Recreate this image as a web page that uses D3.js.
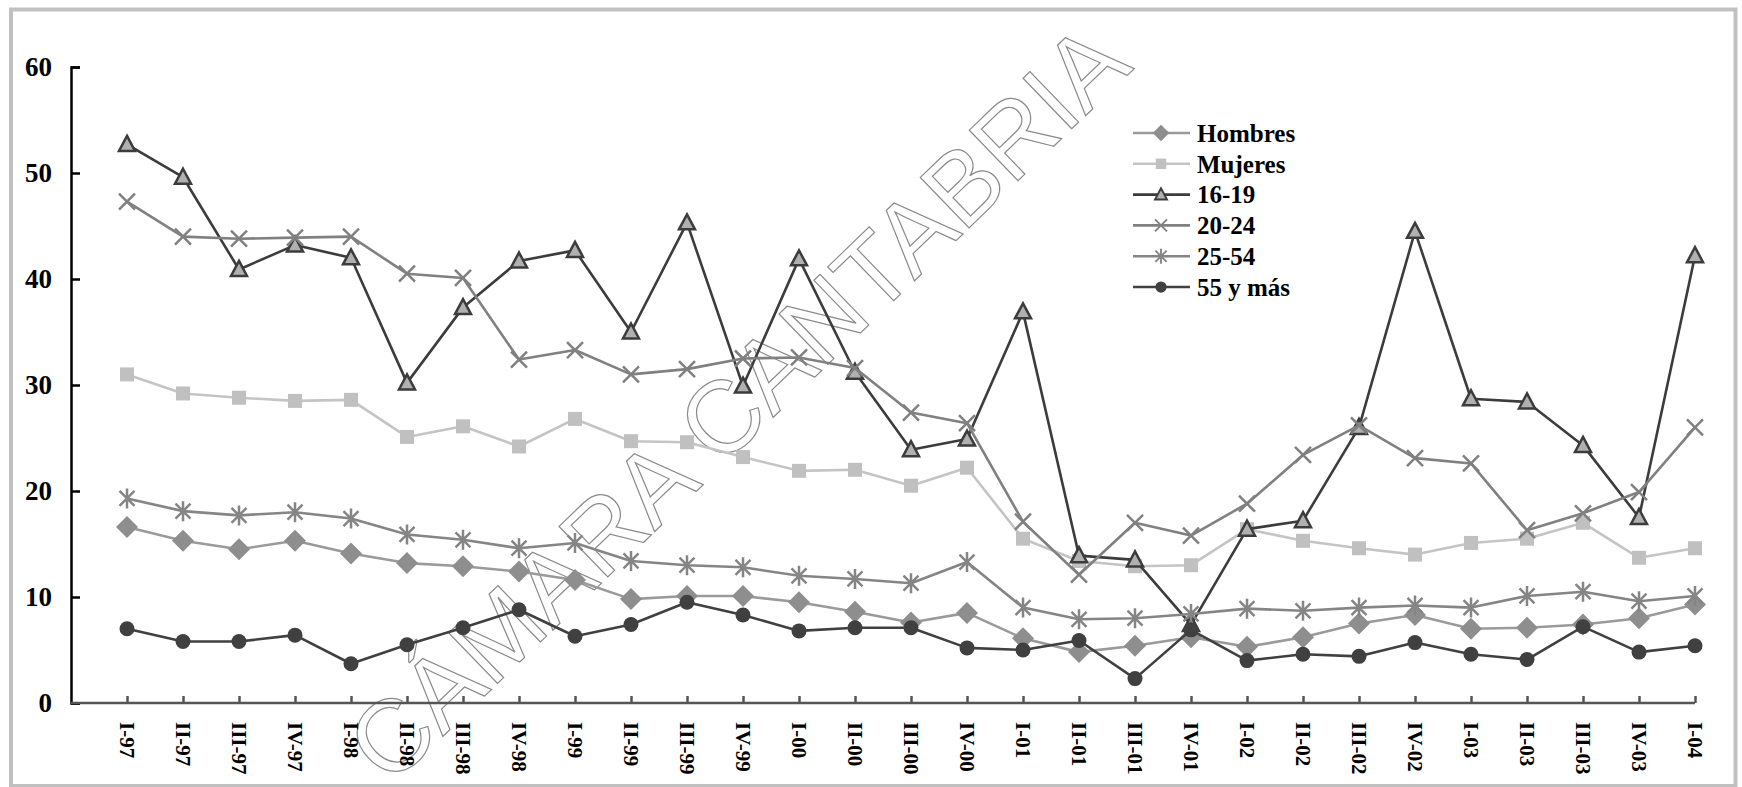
<!DOCTYPE html>
<html><head><meta charset="utf-8">
<script src="https://cdn.jsdelivr.net/npm/d3@7"></script>
<style>
html,body{margin:0;padding:0;background:#fff;}
svg{display:block;}
</style></head>
<body>
<svg id="chart" width="1742" height="787"></svg>
<script>
const categories = ["I-97","II-97","III-97","IV-97","I-98","II-98","III-98","IV-98","I-99","II-99","III-99","IV-99","I-00","II-00","III-00","IV-00","I-01","II-01","III-01","IV-01","I-02","II-02","III-02","IV-02","I-03","II-03","III-03","IV-03","I-04"];
const hombres = [16.6,15.3,14.5,15.3,14.1,13.2,12.9,12.4,11.6,9.8,10.1,10.1,9.5,8.6,7.6,8.5,6.1,4.8,5.4,6.2,5.3,6.2,7.5,8.3,7.0,7.1,7.4,8.0,9.3];
const mujeres = [31.0,29.2,28.8,28.5,28.6,25.1,26.1,24.2,26.8,24.7,24.6,23.2,21.9,22.0,20.5,22.2,15.5,13.4,12.9,13.0,16.4,15.3,14.6,14.0,15.1,15.5,17.0,13.7,14.6];
const g1619 = [52.7,49.6,40.9,43.2,42.0,30.2,37.3,41.7,42.7,35.0,45.3,29.9,41.9,31.2,23.9,24.9,36.9,13.9,13.5,7.4,16.4,17.2,26.0,44.5,28.7,28.4,24.3,17.5,42.2];
const g2024 = [47.3,44.0,43.8,43.9,44.0,40.5,40.1,32.4,33.3,31.0,31.5,32.5,32.6,31.6,27.4,26.4,17.1,12.1,17.0,15.8,18.8,23.4,26.2,23.1,22.6,16.3,17.9,19.9,26.0];
const g2554 = [19.3,18.1,17.7,18.0,17.4,15.9,15.4,14.6,15.1,13.4,13.0,12.8,12.0,11.7,11.3,13.3,9.0,7.9,8.0,8.4,8.9,8.7,9.0,9.2,9.0,10.1,10.5,9.6,10.1];
const g55 = [7.0,5.8,5.8,6.4,3.7,5.5,7.1,8.8,6.3,7.4,9.5,8.3,6.8,7.1,7.1,5.2,5.0,5.9,2.3,6.9,4.0,4.6,4.4,5.7,4.6,4.1,7.2,4.8,5.4];
const yTicks = [0,10,20,30,40,50,60];
const seriesNames = ["Hombres","Mujeres","16-19","20-24","25-54","55 y más"];
const watermark = "CÁMARA CANTABRIA";

const series = [
  {name: seriesNames[0], values: hombres, line: "#9a9a9a", fill: "#8e8e8e", stroke: "none", marker: "diamond"},
  {name: seriesNames[1], values: mujeres, line: "#c4c4c4", fill: "#c0c0c0", stroke: "none", marker: "square"},
  {name: seriesNames[2], values: g1619, line: "#3c3c3c", fill: "#b0b0b0", stroke: "#3c3c3c", marker: "triangle"},
  {name: seriesNames[3], values: g2024, line: "#808080", fill: "none", stroke: "#808080", marker: "x"},
  {name: seriesNames[4], values: g2554, line: "#858585", fill: "none", stroke: "#858585", marker: "star"},
  {name: seriesNames[5], values: g55, line: "#404040", fill: "#404040", stroke: "none", marker: "circle"}
];

const svg = d3.select("#chart");

// frame
svg.append("rect").attr("x",11).attr("y",9.5).attr("width",1724.5).attr("height",776.5)
  .attr("fill","#fff").attr("stroke","#c0c0c0").attr("stroke-width",4);

const x = d3.scalePoint().domain(categories).range([127,1695]);
const y = d3.scaleLinear().domain([0,60]).range([703,67]);
const step = x.step();

// watermark
svg.append("text").text(watermark)
  .attr("transform","translate(762,428) rotate(-44)")
  .attr("text-anchor","middle")
  .attr("font-family","Liberation Sans, Arial, sans-serif")
  .attr("font-size",102)
  .attr("fill","none").attr("stroke","#8a8a8a").attr("stroke-width",1.2);

const serif = "'Liberation Serif','Times New Roman',serif";

// y axis
const yAxis = svg.append("g").attr("transform",`translate(${x(categories[0])-step},0)`)
  .call(d3.axisRight(y).tickValues(yTicks).tickSize(9).tickFormat(""));
yAxis.select(".domain").attr("stroke","#000").attr("stroke-width",2.5);
yAxis.selectAll(".tick line").attr("stroke","#000").attr("stroke-width",2.5);
svg.append("g").selectAll("text").data(yTicks).join("text")
  .attr("x",52).attr("y",d=>y(d)).attr("dy","0.35em")
  .attr("text-anchor","end").attr("font-family",serif).attr("font-weight","bold")
  .attr("font-size",27).attr("fill","#000").text(d=>d);

// x axis
const xAxis = svg.append("g").attr("transform",`translate(0,${y(0)})`)
  .call(d3.axisTop(x).tickSize(7).tickSizeOuter(0).tickFormat(""));
xAxis.select(".domain").remove();
xAxis.selectAll(".tick line").attr("stroke","#555").attr("stroke-width",2.5);
svg.append("line").attr("x1",x(categories[0])-step).attr("x2",x(categories[categories.length-1]))
  .attr("y1",y(0)).attr("y2",y(0)).attr("stroke","#555").attr("stroke-width",2.5);
svg.append("g").selectAll("text").data(categories).join("text")
  .attr("transform",d=>`translate(${x(d)},${y(0)+19}) rotate(90)`)
  .attr("dy","0.35em").attr("text-anchor","start")
  .attr("font-family",serif).attr("font-weight","bold").attr("font-size",21)
  .attr("fill","#000").text(d=>d);

function markerPath(type){
  switch(type){
    case "diamond": return "M0,-11L11,0L0,11L-11,0Z";
    case "square": return "M-7,-7H7V7H-7Z";
    case "triangle": return "M0,-8.5L8,6.5L-8,6.5Z";
    case "x": return "M-8,-8L8,8M8,-8L-8,8";
    case "star": return "M-7.5,-7.5L7.5,7.5M7.5,-7.5L-7.5,7.5M0,-10V10";
    case "circle": return "M7.5,0A7.5,7.5 0 1,1 -7.5,0A7.5,7.5 0 1,1 7.5,0Z";
  }
}

function drawMarker(g, s){
  const p = g.append("path").attr("d", markerPath(s.marker));
  if (s.marker === "x" || s.marker === "star") {
    p.attr("fill","none").attr("stroke",s.stroke).attr("stroke-width",2.5);
  } else if (s.marker === "triangle") {
    p.attr("fill",s.fill).attr("stroke",s.stroke).attr("stroke-width",2.5).attr("stroke-linejoin","miter");
  } else {
    p.attr("fill",s.fill).attr("stroke","none");
  }
}

const line = d3.line().x((d,i)=>x(categories[i])).y(d=>y(d));

series.forEach(s=>{
  const g = svg.append("g");
  g.append("path").datum(s.values).attr("d",line)
    .attr("fill","none").attr("stroke",s.line).attr("stroke-width",2.6).attr("stroke-linejoin","round");
  s.values.forEach((v,i)=>{
    const mg = g.append("g").attr("transform",`translate(${x(categories[i])},${y(v)})`);
    drawMarker(mg, s);
  });
});

// legend
const legend = svg.append("g").attr("transform","translate(1133,133)");
series.forEach((s,i)=>{
  const row = legend.append("g").attr("transform",`translate(0,${i*30.8})`);
  row.append("line").attr("x1",0).attr("x2",57).attr("y1",0).attr("y2",0)
    .attr("stroke",s.line).attr("stroke-width",2.6);
  const mg = row.append("g").attr("transform","translate(28,0) scale(0.75)");
  drawMarker(mg, s);
  row.append("text").attr("x",64).attr("y",0).attr("dy","0.35em")
    .attr("font-family",serif).attr("font-weight","bold").attr("font-size",25)
    .attr("fill","#000").text(s.name);
});
</script>
</body></html>
